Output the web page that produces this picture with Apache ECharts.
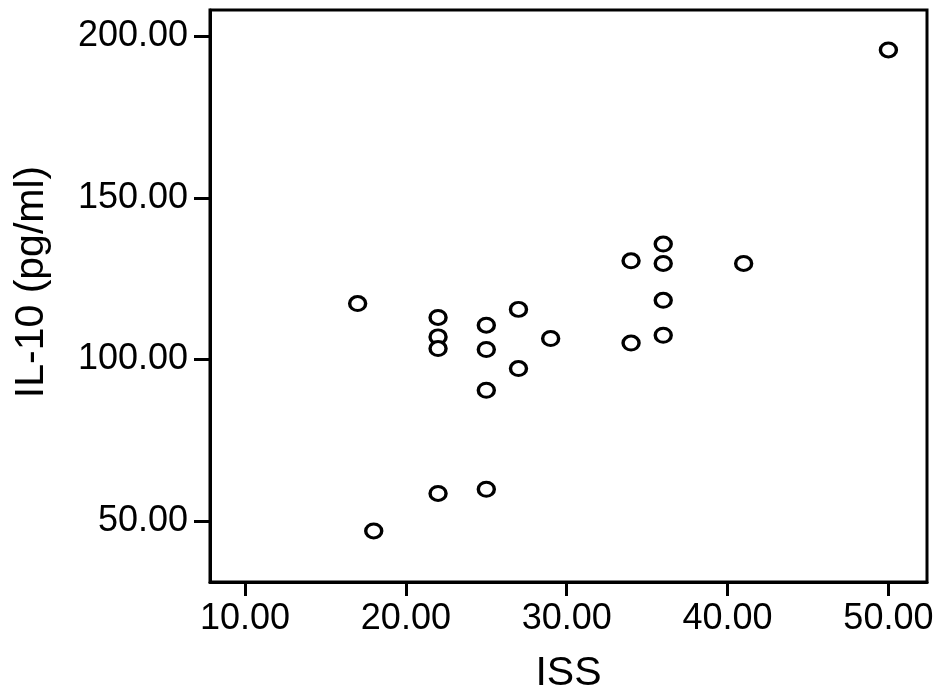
<!DOCTYPE html>
<html>
<head>
<meta charset="utf-8">
<title>IL-10 vs ISS</title>
<script src="https://cdn.jsdelivr.net/npm/echarts@6/dist/echarts.min.js"></script>
<style>
  html, body { margin: 0; padding: 0; background: #fff; }
  #main { width: 945px; height: 693px; }
</style>
</head>
<body>
<div id="main"></div>
<script>
// ISS score per patient and its IL-10 level (pg/ml)
var issValues  = [17, 18, 22, 22, 22, 22, 25, 25, 25, 25, 27, 27, 29, 34, 34, 36, 36, 36, 36, 41, 50];
var il10Values = [117.3, 47.0, 113.0, 107.0, 103.4, 58.6, 110.6, 103.1, 90.5, 59.9, 115.5, 97.2, 106.5, 130.5, 105.1, 135.7, 129.7, 118.3, 107.5, 129.7, 195.7];

var xTicks = [10, 20, 30, 40, 50];
var yTicks = [50, 100, 150, 200];

var points = issValues.map(function (v, i) { return [v, il10Values[i]]; });

var font = "'Liberation Sans', Arial, sans-serif";

var myChart = echarts.init(document.getElementById('main'));
var option = {
    backgroundColor: '#fff',
    animation: false,
    grid: {
        left: 210,
        top: 10,
        right: 18,
        bottom: 111,
        containLabel: false,
        outerBoundsMode: 'none',
        show: true,
        borderColor: '#000',
        borderWidth: 3
    },
    xAxis: {
        type: 'value',
        min: 7.82,
        max: 52.4,
        name: 'ISS',
        nameLocation: 'middle',
        nameGap: 71,
        nameTextStyle: { fontFamily: font, fontSize: 41, color: '#000' },
        axisLine: { show: true, lineStyle: { color: '#000', width: 3 } },
        axisTick: { show: true, length: 14, lineStyle: { color: '#000', width: 3 }, customValues: xTicks },
        axisLabel: {
            fontFamily: font, fontSize: 36, color: '#000', margin: 19,
            customValues: xTicks,
            formatter: function (v) { return v.toFixed(2); }
        },
        splitLine: { show: false }
    },
    yAxis: {
        type: 'value',
        min: 31.23,
        max: 208.04,
        name: 'IL-10 (pg/ml)',
        nameLocation: 'middle',
        nameGap: 158,
        nameRotate: 90,
        nameTextStyle: { fontFamily: font, fontSize: 41, color: '#000', padding: [0, 0, 0, 28] },
        axisLine: { show: true, lineStyle: { color: '#000', width: 3 } },
        axisTick: { show: true, length: 16, lineStyle: { color: '#000', width: 3 }, customValues: yTicks },
        axisLabel: {
            fontFamily: font, fontSize: 36, color: '#000', margin: 22,
            customValues: yTicks,
            formatter: function (v) { return v.toFixed(2); }
        },
        splitLine: { show: false }
    },
    series: [
        {
            type: 'scatter',
            symbol: 'circle',
            symbolSize: [16, 14],
            itemStyle: { color: '#fff', borderColor: '#000', borderWidth: 3.2, opacity: 1 },
            data: points
        }
    ]
};
myChart.setOption(option, true);
</script>
</body>
</html>
